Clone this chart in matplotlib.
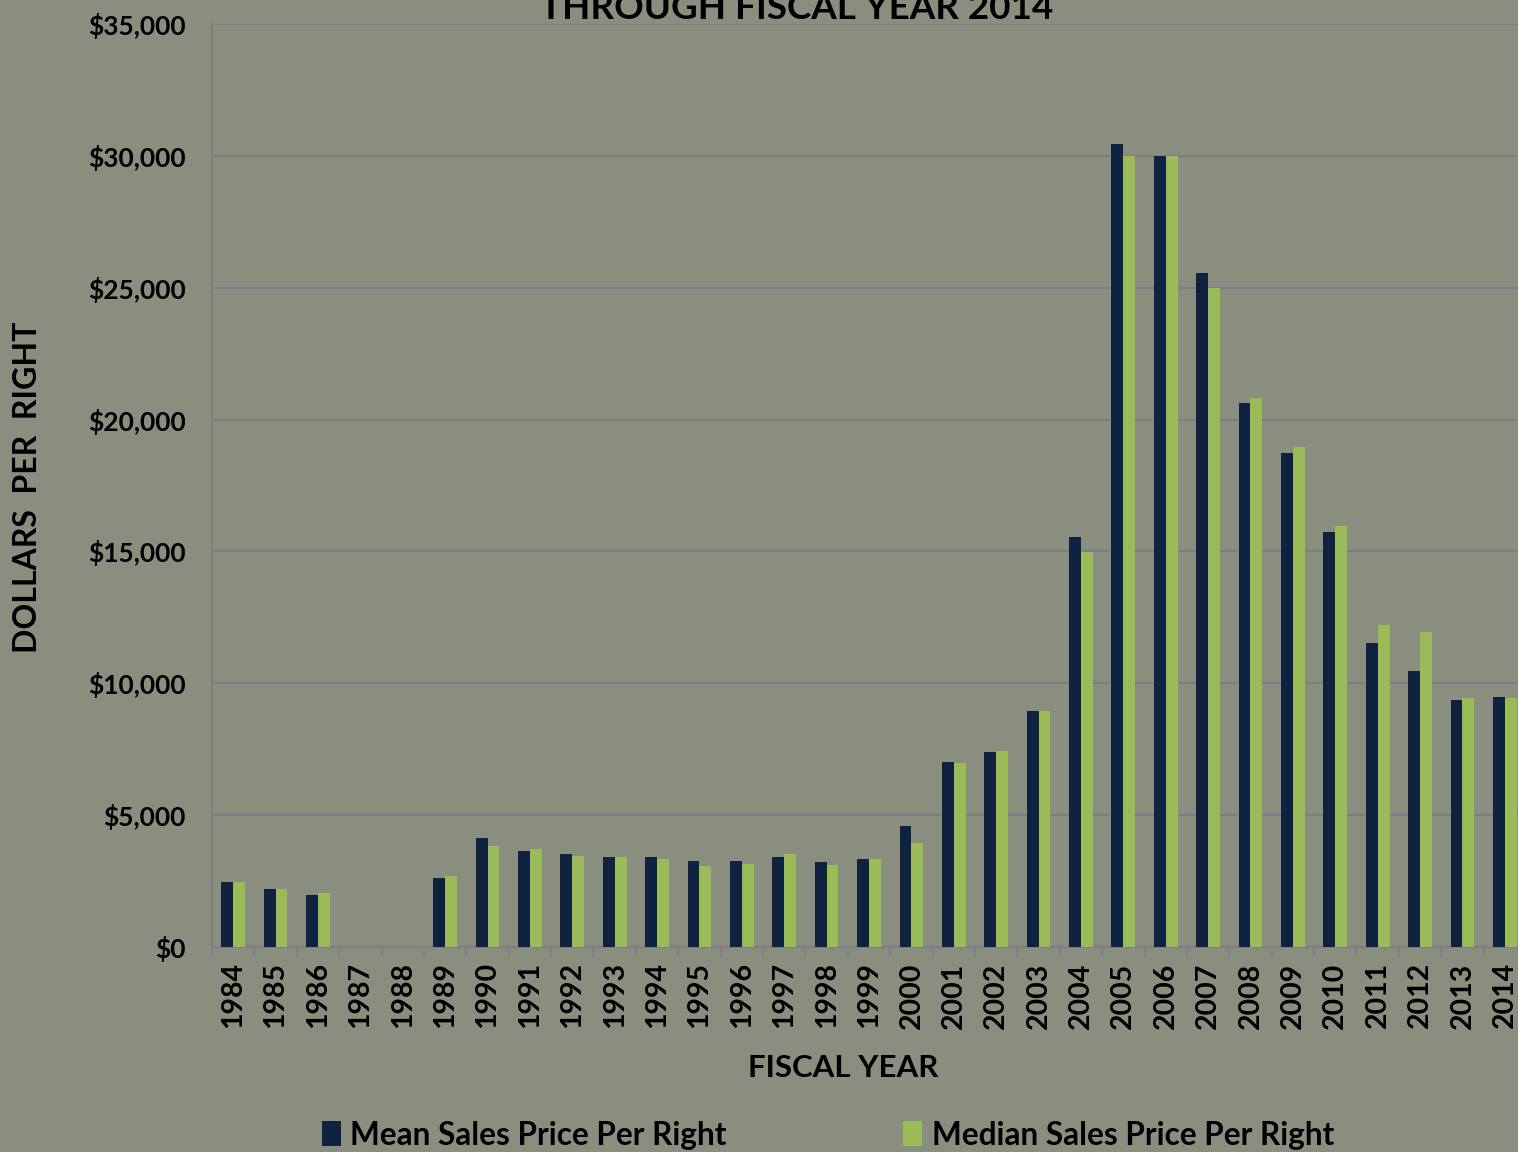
import matplotlib.pyplot as plt
import numpy as np

years = [str(y) for y in range(1984, 2015)]
mean_price = [2470, 2200, 1960, 0, 0, 2620, 4130, 3640, 3540, 3425, 3425,
              3260, 3250, 3400, 3235, 3340, 4580, 7015, 7395, 8950, 15560,
              30450, 30000, 25570, 20630, 18730, 15725, 11517, 10455, 9366, 9480]
median_price = [2470, 2200, 2035, 0, 0, 2705, 3830, 3705, 3450, 3425, 3337,
                3060, 3160, 3527, 3098, 3337, 3944, 6977, 7430, 8950, 14970,
                30000, 30000, 25000, 20820, 18960, 15965, 12200, 11945, 9442, 9442]
yticks = list(range(0, 35001, 5000))

bg = "#898e7e"
navy = "#0f2340"
green = "#9bbb59"
grid = "#7c7d86"
font = "Lato"

W, H = 1518, 1152
fig = plt.figure(figsize=(W / 100, H / 100), dpi=100)
fig.patch.set_facecolor(bg)

# plot area: x from 212px to ~1526px (runs past the right edge), y 0 at 947px, 35000 at 24px
ax = fig.add_axes([212 / W, (H - 947) / H, (1526 - 212) / W, (947 - 24) / H])
ax.set_facecolor("none")

x = np.arange(len(years))
bw = 0.28
ax.bar(x - bw / 2, mean_price, bw, color=navy, label="Mean Sales Price Per Right", zorder=3)
ax.bar(x + bw / 2, median_price, bw, color=green, label="Median Sales Price Per Right", zorder=3)

ax.set_xlim(-0.5, len(years) - 0.5)
ax.set_ylim(0, 35000)
ax.set_yticks(yticks)
ax.set_yticklabels(["${:,}".format(v) for v in yticks], fontsize=19, fontweight="bold", family=font)
ax.yaxis.grid(True, color=grid, linewidth=1.3, zorder=0)
ax.tick_params(axis="y", length=0, pad=19)

ax.set_xticks(x)
ax.set_xticklabels(years, rotation=90, fontsize=20.5, fontweight="bold", family=font)
ax.set_xticks(np.arange(-0.5, len(years), 1), minor=True)
ax.tick_params(axis="x", which="major", length=0, pad=11)
ax.tick_params(axis="x", which="minor", length=7, color=grid, width=1.2)

for s in ["top", "right"]:
    ax.spines[s].set_visible(False)
ax.spines["left"].set_color(grid)
ax.spines["left"].set_linewidth(1.2)
ax.spines["bottom"].set_color(grid)
ax.spines["bottom"].set_linewidth(1.5)

fig.text(28 / W, 1 - 487 / H, "DOLLARS  PER  RIGHT", rotation=90, ha="center", va="center",
         fontsize=23, fontweight="bold", family=font)
fig.text(843 / W, 1 - 1068 / H, "FISCAL YEAR", ha="center", va="center",
         fontsize=22.5, fontweight="bold", family=font)
# title is cropped by the top edge in the original slide
fig.text(797 / W, 1 - 19 / H, "THROUGH FISCAL YEAR 2014", ha="center", va="baseline",
         fontsize=26.5, fontweight="bold", family=font)

leg = fig.legend(loc="center", bbox_to_anchor=(828 / W, 1 - 1135 / H), ncol=2, frameon=False,
                 prop={"family": font, "weight": "bold", "size": 22.7},
                 handlelength=0.6, handleheight=0.8, handletextpad=0.3, columnspacing=5.6)

fig.savefig("out.png", dpi=100, facecolor=bg)
